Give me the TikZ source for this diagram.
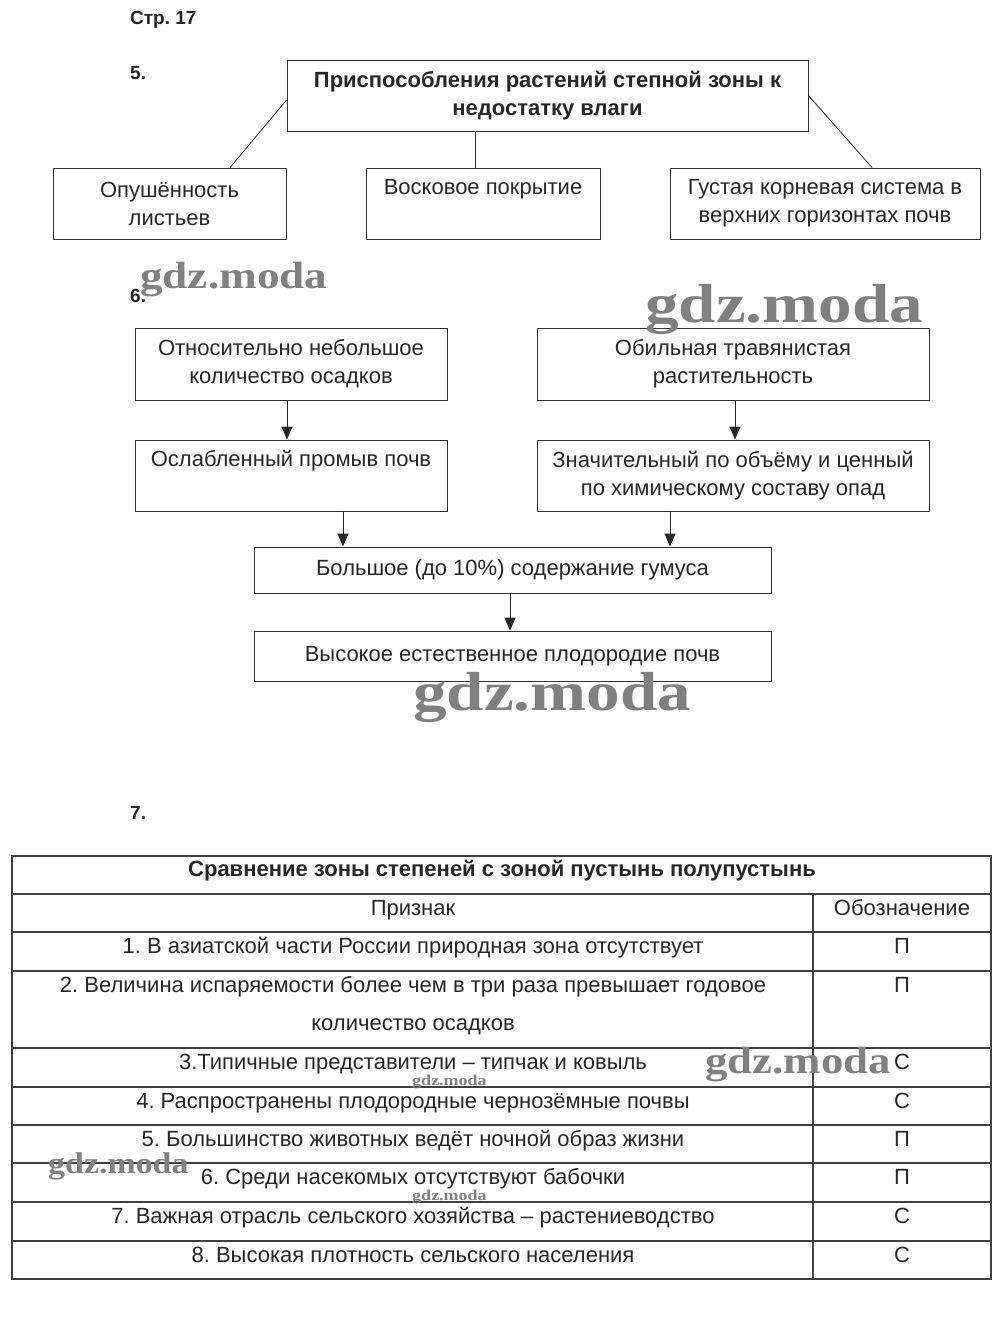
\documentclass[tikz,border=0pt]{standalone}
\usepackage{fontspec}
\setmainfont{Liberation Sans}
\newfontfamily\markfont{Liberation Serif}
\usetikzlibrary{arrows.meta}
\frenchspacing

\newcommand{\bodyfont}{\fontsize{22}{28}\selectfont}
\newcommand{\wmfont}[1]{\markfont\bfseries\fontsize{#1}{#1}\selectfont}

\tikzset{
  box/.style={draw=black!80, line width=0.9pt, align=center, inner sep=0pt,
    font=\bodyfont, text=black!85},
  arr/.style={line width=0.9pt, draw=black!85,
    -{Triangle[length=13pt,width=11pt]}},
  link/.style={line width=0.8pt, draw=black!85},
  grid/.style={line width=1.2pt, draw=black!75},
  cell/.style={anchor=base, align=center, inner sep=0pt, font=\bodyfont,
    text=black!85},
  numlabel/.style={anchor=base west, inner sep=0pt,
    font=\fontsize{19}{22}\selectfont\bfseries, text=black!85},
  wmark/.style={anchor=base west, inner sep=0pt, text=black!50,
    transform shape}
}

\begin{document}
\begin{tikzpicture}[x=1pt,y=-1pt]
  \useasboundingbox (0,0) rectangle (1000,1326);

  % task 5
  \node[numlabel] (page) at (130,24) {Стр. 17};
  \node[numlabel] (n5) at (130,79) {5.};
  \node[box, font=\bodyfont\bfseries, minimum width=521, minimum height=71]
    (adapt) at (547.5,95.5) {Приспособления растений степной зоны к\\недостатку влаги};
  \node[box, minimum width=233, minimum height=71] (hairs) at (169.5,203.5)
    {Опушённость\\листьев};
  \node[box, minimum width=234, minimum height=71] (wax) at (483,203.5)
    {Восковое покрытие\\[6pt]~};
  \node[box, minimum width=310, minimum height=71] (roots) at (825,203.5)
    {Густая корневая система в\\верхних горизонтах почв};
  \draw[link] (adapt.west |- 0,100) -- (hairs.north -| 230,0);
  \draw[link] (adapt.south -| 475,0) -- (wax.north -| 475,0);
  \draw[link] (adapt.east) -- (roots.north -| 872,0);

  % task 6
  \node[numlabel] (n6) at (130,302) {6.};
  \node[box, minimum width=312, minimum height=72] (rain) at (291,364)
    {Относительно небольшое\\количество осадков};
  \node[box, minimum width=392, minimum height=72] (grass) at (733,364)
    {Обильная травянистая\\растительность};
  \node[box, minimum width=312, minimum height=71] (leach) at (291,475.5)
    {Ослабленный промыв почв\\[6pt]~};
  \node[box, minimum width=392, minimum height=71] (litter) at (733,475.5)
    {Значительный по объёму и ценный\\по химическому составу опад};
  \node[box, minimum width=517, minimum height=46] (humus) at (512.5,570)
    {Большое (до 10\%) содержание гумуса};
  \node[box, minimum width=517, minimum height=50] (fert) at (512.5,656)
    {Высокое естественное плодородие почв};
  \draw[arr] (rain.south -| 287,0) -- (leach.north -| 287,0);
  \draw[arr] (grass.south -| 735,0) -- (litter.north -| 735,0);
  \draw[arr] (leach.south -| 343,0) -- (humus.north -| 343,0);
  \draw[arr] (litter.south -| 670,0) -- (humus.north -| 670,0);
  \draw[arr] (humus.south -| 510,0) -- (fert.north -| 510,0);

  % task 7
  \node[numlabel] (n7) at (130,819) {7.};
  \draw[grid] (12,856) rectangle (991,1279);
  \foreach \ly in {894,932,971,1048,1087,1125,1163,1202,1241}
    \draw[grid] (12,\ly) -- (991,\ly);
  \draw[grid] (813,894) -- (813,1279);
  \node[cell, font=\bodyfont\bfseries] (title) at (502,876)
    {Сравнение зоны степеней с зоной пустынь полупустынь};
  \node[cell] (signhead) at (413,915) {Признак};
  \node[cell] (codehead) at (902,915) {Обозначение};
  \foreach \rowy/\lastline/\txt/\code [count=\i] in {
      932/0/{1. В азиатской части России природная зона отсутствует}/П,
      971/38/{2. Величина испаряемости более чем в три раза превышает годовое\\[10pt]количество осадков}/П,
      1048/0/{3.Типичные представители – типчак и ковыль}/С,
      1087/0/{4. Распространены плодородные чернозёмные почвы}/С,
      1125/0/{5. Большинство животных ведёт ночной образ жизни}/П,
      1163/0/{6. Среди насекомых отсутствуют бабочки}/П,
      1202/0/{7. Важная отрасль сельского хозяйства – растениеводство}/С,
      1241/0/{8. Высокая плотность сельского населения}/С}{
    \node[cell] (sign\i) at (413,\rowy+21+\lastline) {\txt};
    \node[cell] (code\i) at (902,\rowy+21) {\code};
  }

  % watermarks
  \node[wmark, font=\wmfont{38}, xscale=1.19] (wm1) at (140,288) {gdz.moda};
  \node[wmark, font=\wmfont{55}, xscale=1.22] (wm2) at (645,322) {gdz.moda};
  \node[wmark, font=\wmfont{55}, xscale=1.22] (wm3) at (413,710) {gdz.moda};
  \node[wmark, font=\wmfont{38}, xscale=1.18] (wm4) at (705,1073) {gdz.moda};
  \node[wmark, font=\wmfont{15}, xscale=1.2] (wm5) at (412,1085) {gdz.moda};
  \node[wmark, font=\wmfont{30}, xscale=1.13] (wm6) at (48,1173) {gdz.moda};
  \node[wmark, font=\wmfont{15}, xscale=1.2] (wm7) at (412,1200) {gdz.moda};
\end{tikzpicture}
\end{document}
